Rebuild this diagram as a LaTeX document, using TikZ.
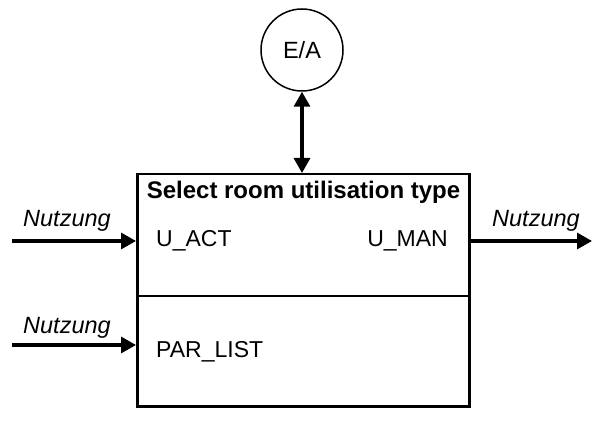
\documentclass[tikz,border=0pt]{standalone}
\usepackage{fontspec}
\setmainfont{Liberation Sans}
\usetikzlibrary{arrows.meta}
\begin{document}
\begin{tikzpicture}[x=1pt,y=-1pt,
  lbl/.style={font=\fontsize{23}{27}\selectfont, inner sep=0pt},
  ttl/.style={font=\fontsize{24}{28}\selectfont\bfseries, inner sep=0pt},
  flowlbl/.style={font=\fontsize{23.5}{27}\selectfont\itshape, inner sep=0pt},
  arr/.style={line width=3.2pt, -{Triangle[length=15pt,width=16pt]}},
  biarr/.style={line width=3.2pt, {Triangle[length=15pt,width=16pt]}-{Triangle[length=15pt,width=16pt]}},
  blk/.style={draw, line width=2.5pt, inner sep=0pt, minimum width=332pt, minimum height=232pt}
]
\useasboundingbox (0,0) rectangle (600,422);
\node[blk, anchor=north west] (box) at (136,173) {};
\draw[line width=2.5pt] (box.west |- 0,296) -- (box.east |- 0,296);
\node[circle, draw, line width=1.5pt, minimum size=82pt, inner sep=0pt, font=\fontsize{23.5}{27}\selectfont] (ea) at (302,50) {E/A};
\draw[biarr] (ea.south) -- (ea.south |- box.north);
\node[ttl, anchor=base] (title) at (303.5,199) {Select room utilisation type};
\node[lbl, anchor=base west] (uact) at (156,247) {U\_ACT};
\node[lbl, anchor=base east] (uman) at (448,247) {U\_MAN};
\node[lbl, anchor=base west] (parl) at (156,357) {PAR\_LIST};
\coordinate (in1) at (12,241);
\coordinate (in2) at (12,345);
\coordinate (out1) at (592,241);
\draw[arr] (in1) -- (in1 -| box.west);
\draw[arr] (in2) -- (in2 -| box.west);
\draw[arr] (out1 -| box.east) -- (out1);
\node[flowlbl, anchor=base west] (n1) at (23,227) {Nutzung};
\node[flowlbl, anchor=base west] (n2) at (23,334) {Nutzung};
\node[flowlbl, anchor=base west] (n3) at (492,227) {Nutzung};
\end{tikzpicture}
\end{document}
